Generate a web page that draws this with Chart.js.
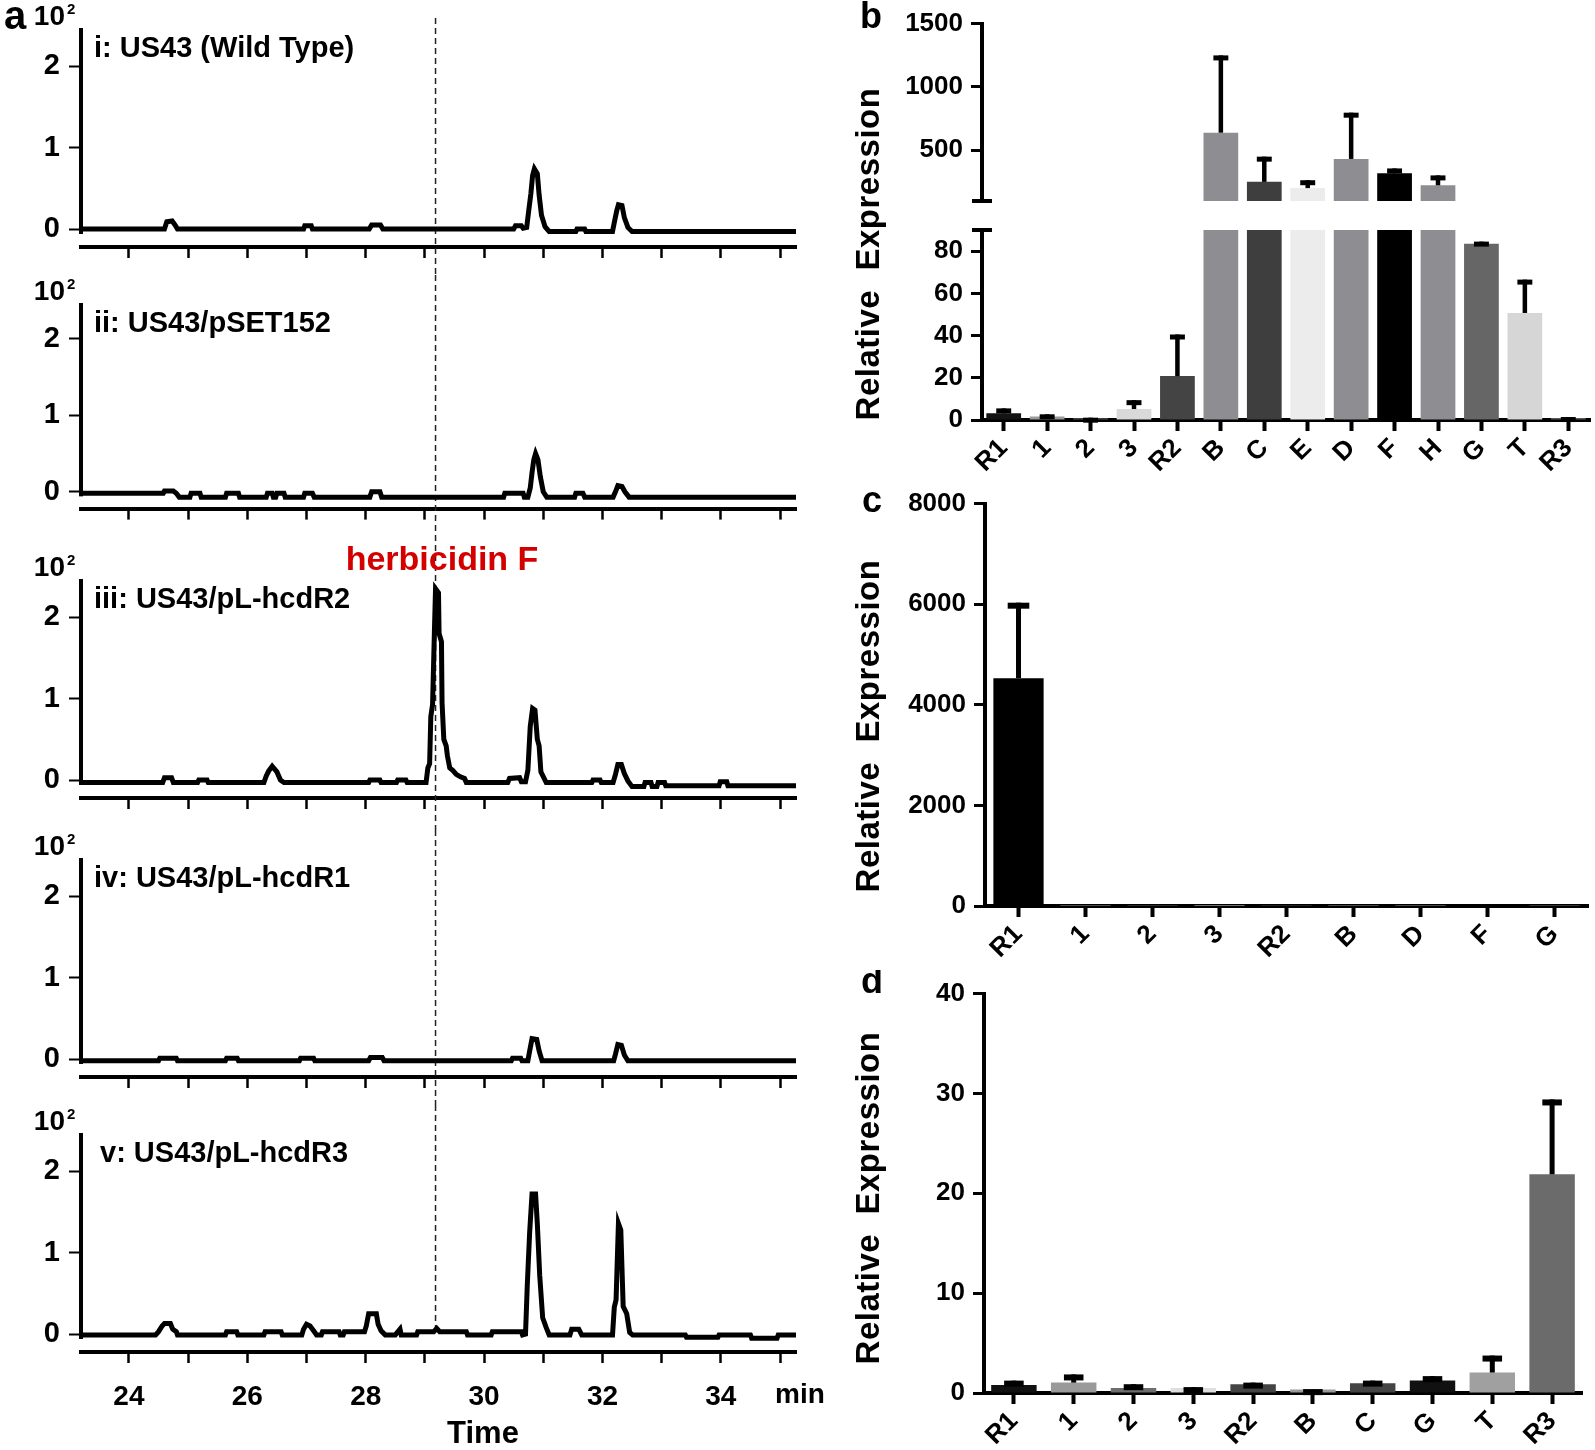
<!DOCTYPE html>
<html>
<head>
<meta charset="utf-8">
<script src="https://cdn.jsdelivr.net/npm/chart.js"></script>
<style>
  body { margin: 0; background: #fff; }
  #fig { position: relative; width: 1595px; height: 1450px; overflow: hidden; }
  #fig canvas { position: absolute; }
</style>
</head>
<body>
<div id="fig"></div>
<script>
// chromatograms: [time (min), intensity (x10^2)]
const traceI = [[23.19,0],[24.6,0],[24.64,0.09],[24.73,0.1],[24.78,0.05],[24.82,0],[26.95,0],[26.97,0.04],[27.08,0.04],[27.1,0],
  [28.06,0],[28.1,0.05],[28.25,0.05],[28.29,0],[30.5,0],[30.53,0.04],[30.63,0.04],[30.66,0.01],[30.72,0.02],[30.75,0.2],
  [30.79,0.43],[30.82,0.66],[30.85,0.74],[30.9,0.68],[30.93,0.42],[30.97,0.17],[31.03,0.03],[31.1,-0.03],[31.55,-0.03],
  [31.57,0],[31.7,0],[31.72,-0.03],[32.17,-0.03],[32.2,0.08],[32.24,0.22],[32.27,0.3],[32.33,0.29],[32.37,0.14],
  [32.43,0.02],[32.5,-0.03],[35.27,-0.03]]
const traceII = [[23.19,-0.02],[24.58,-0.02],[24.6,0.01],[24.75,0.01],[24.8,-0.02],[24.85,-0.07],[25.03,-0.07],[25.05,-0.02],
  [25.2,-0.02],[25.22,-0.07],[25.63,-0.07],[25.65,-0.02],[25.85,-0.02],[25.87,-0.07],[26.32,-0.07],[26.34,-0.02],[26.42,-0.02],
  [26.44,-0.07],[26.48,-0.07],[26.5,-0.02],[26.62,-0.02],[26.64,-0.07],[26.95,-0.07],[26.97,-0.02],[27.1,-0.02],[27.13,-0.07],
  [28.07,-0.07],[28.1,0],[28.24,0],[28.27,-0.07],[30.33,-0.07],[30.35,-0.02],[30.66,-0.02],[30.68,-0.07],[30.74,-0.07],
  [30.78,0.05],[30.81,0.25],[30.84,0.42],[30.87,0.5],[30.91,0.42],[30.95,0.2],[31,0],[31.06,-0.07],[31.53,-0.07],
  [31.55,-0.02],[31.67,-0.02],[31.7,-0.07],[32.18,-0.07],[32.22,0],[32.26,0.08],[32.33,0.07],[32.38,0],[32.45,-0.07],[35.27,-0.07]]
const traceIII = [[23.19,-0.03],[24.57,-0.03],[24.6,0.03],[24.72,0.03],[24.75,-0.03],[25.16,-0.03],[25.18,0],[25.32,0],
  [25.34,-0.03],[26.28,-0.03],[26.32,0.05],[26.36,0.11],[26.42,0.17],[26.5,0.1],[26.56,0],[26.62,-0.03],[28.05,-0.03],
  [28.07,0],[28.24,0],[28.26,-0.03],[28.52,-0.03],[28.54,0],[28.68,0],[28.7,-0.03],[29.02,-0.03],[29.05,0.15],[29.08,0.2],
  [29.1,0.78],[29.13,0.93],[29.16,1.8],[29.18,2.35],[29.23,2.3],[29.24,1.8],[29.28,1.7],[29.29,0.95],[29.32,0.5],
  [29.36,0.42],[29.38,0.3],[29.42,0.15],[29.47,0.12],[29.53,0.07],[29.6,0.04],[29.67,0.02],[29.7,-0.03],[30.4,-0.03],
  [30.43,0.02],[30.6,0.03],[30.63,-0.02],[30.7,-0.02],[30.74,0.12],[30.78,0.66],[30.82,0.88],[30.86,0.86],[30.9,0.5],
  [30.93,0.42],[30.96,0.1],[31.05,-0.03],[31.82,-0.03],[31.84,0],[31.96,0],[31.98,-0.03],[32.18,-0.03],[32.22,0.07],
  [32.26,0.19],[32.32,0.19],[32.37,0.08],[32.43,-0.01],[32.5,-0.08],[32.7,-0.08],[32.72,-0.03],[32.82,-0.03],[32.84,-0.08],
  [32.92,-0.08],[32.94,-0.03],[33.05,-0.03],[33.07,-0.07],[33.97,-0.07],[33.99,-0.02],[34.1,-0.02],[34.12,-0.07],[35.27,-0.07]]
const traceIV = [[23.19,-0.02],[24.5,-0.02],[24.52,0.01],[24.8,0.01],[24.82,-0.02],[25.63,-0.02],[25.65,0.01],[25.83,0.01],
  [25.85,-0.02],[26.88,-0.02],[26.9,0.01],[27.12,0.01],[27.14,-0.02],[28.05,-0.02],[28.08,0.02],[28.28,0.02],[28.31,-0.02],
  [30.46,-0.02],[30.48,0.01],[30.62,0.01],[30.64,-0.02],[30.74,-0.02],[30.77,0.1],[30.81,0.25],[30.89,0.24],[30.93,0.1],
  [30.98,-0.02],[32.19,-0.02],[32.22,0.06],[32.26,0.18],[32.32,0.17],[32.37,0.05],[32.43,-0.02],[35.27,-0.02]]
const traceV = [[23.19,-0.01],[24.45,-0.01],[24.5,0.03],[24.56,0.1],[24.6,0.13],[24.7,0.13],[24.74,0.06],[24.8,0.03],
  [24.82,-0.01],[25.63,-0.01],[25.65,0.03],[25.82,0.03],[25.84,-0.01],[26.28,-0.01],[26.3,0.03],[26.57,0.03],[26.59,-0.01],
  [26.92,-0.01],[26.95,0.06],[27,0.12],[27.06,0.1],[27.12,0.04],[27.17,-0.01],[27.25,-0.01],[27.27,0.03],[27.55,0.03],
  [27.57,-0.01],[27.62,-0.01],[27.64,0.03],[27.98,0.03],[28.01,0.1],[28.05,0.25],[28.18,0.25],[28.21,0.12],[28.26,0.04],
  [28.33,-0.01],[28.5,-0.01],[28.58,0.06],[28.6,-0.01],[28.86,-0.01],[28.88,0.03],[29.15,0.03],[29.2,0.07],[29.25,0.03],
  [29.7,0.03],[29.72,-0.01],[30.12,-0.01],[30.14,0.03],[30.63,0.03],[30.65,-0.01],[30.7,0],[30.73,0.6],[30.77,1.25],
  [30.81,1.72],[30.87,1.72],[30.9,1.35],[30.94,0.72],[30.99,0.2],[31.05,0.08],[31.1,-0.01],[31.45,-0.01],[31.48,0.06],
  [31.6,0.06],[31.65,-0.01],[32.17,-0.01],[32.2,0.33],[32.23,0.42],[32.27,1.36],[32.31,1.28],[32.35,0.34],[32.41,0.25],
  [32.46,0.02],[32.51,-0.01],[33.4,-0.01],[33.42,-0.04],[33.95,-0.04],[33.97,-0.01],[34.5,-0.01],[34.52,-0.05],
  [34.95,-0.05],[34.97,-0.01],[35.27,-0.01]]
const traceTitles = ['i: US43 (Wild Type)', 'ii: US43/pSET152', 'iii: US43/pL-hcdR2', 'iv: US43/pL-hcdR1', 'v: US43/pL-hcdR3']
const markerTime = 29.18
const markerLabel = 'herbicidin F'

// relative expression (mean and SD)
const bLabels = ['R1', '1', '2', '3', 'R2', 'B', 'C', 'E', 'D', 'F', 'H', 'G', 'T', 'R3']
const bMean = [3.2, 1.6, 0.8, 5.2, 20.8, 639, 251, 202, 432, 319, 224, 83.5, 50.7, 1.0]
const bSd = [2.3, 1.1, 0.3, 4.2, 19.7, 610, 199, 62, 365, 38, 78, 1.0, 15.8, 0.4]
const bTopTicks = [500, 1000, 1500]
const cLabels = ['R1', '1', '2', '3', 'R2', 'B', 'D', 'F', 'G']
const cMean = [4530, 1.2, 0.9, 1.1, 0.8, 1.3, 0.7, 1.0, 0.9]
const cSd = [1500, 0, 0, 0, 0, 0, 0, 0, 0]
const dLabels = ['R1', '1', '2', '3', 'R2', 'B', 'C', 'G', 'T', 'R3']
const dMean = [0.81, 1.04, 0.49, 0.49, 0.88, 0.36, 0.98, 1.24, 2.05, 21.9]
const dSd = [0.43, 0.82, 0.39, 0.1, 0.16, 0.03, 0.26, 0.45, 1.7, 7.5]

const bColors = ['#141414', '#9a9a9a', '#555555', '#d9d9d9', '#444444', '#8e8e92', '#3e3e3e', '#ececec', '#8e8e92', '#000000', '#8e8e92', '#666666', '#d6d6d6', '#5a5a5a']
const cColors = ['#000000', '#9a9a9a', '#555555', '#d9d9d9', '#444444', '#8e8e92', '#8e8e92', '#000000', '#666666']
const dColors = ['#111111', '#9a9a9a', '#6e6e6e', '#dedede', '#444444', '#9a9a9a', '#444444', '#111111', '#a0a0a0', '#6b6b6b']

Chart.defaults.font.family = "'Liberation Sans', Arial, Helvetica, sans-serif"
Chart.defaults.font.weight = 'bold'
Chart.defaults.color = '#000'
Chart.defaults.animation = false
Chart.defaults.events = []
Chart.defaults.plugins.legend.display = false
Chart.defaults.plugins.tooltip.enabled = false

const fig = document.getElementById('fig')
const BOLD = "'Liberation Sans', Arial, sans-serif"

function makeCanvas (left, top, w, h) {
  const c = document.createElement('canvas')
  c.width = w
  c.height = h
  c.style.left = left + 'px'
  c.style.top = top + 'px'
  c.style.width = w + 'px'
  c.style.height = h + 'px'
  fig.appendChild(c)
  return c
}

// plain text labels (titles, panel letters, axis names)
function textPlugin (items) {
  return {
    id: 'txt',
    afterDraw (chart) {
      const ctx = chart.ctx
      items.forEach(it => {
        ctx.save()
        ctx.font = 'bold ' + it.size + 'px ' + BOLD
        if (it.spacing) ctx.letterSpacing = it.spacing
        ctx.fillStyle = it.color || '#000'
        ctx.textAlign = it.align || 'left'
        ctx.textBaseline = it.base || 'alphabetic'
        ctx.translate(it.x, it.y)
        if (it.rot) ctx.rotate(it.rot)
        ctx.fillText(it.t, 0, 0)
        ctx.restore()
      })
    }
  }
}

// dashed retention-time marker + y axis line that stops at the baseline
function chromPlugin (yStart, stopAtZero) {
  return {
    id: 'chrom',
    beforeDatasetsDraw (chart) {
      const ctx = chart.ctx
      const x = chart.scales.x.getPixelForValue(markerTime)
      const y = chart.scales.y
      const a = chart.chartArea
      ctx.save()
      ctx.setLineDash([6, 4])
      ctx.lineWidth = 1.5
      ctx.strokeStyle = '#222'
      ctx.beginPath()
      ctx.moveTo(x, yStart)
      ctx.lineTo(x, stopAtZero ? y.getPixelForValue(0) : chart.height)
      ctx.stroke()
      ctx.setLineDash([])
      ctx.fillStyle = '#000'
      ctx.fillRect(a.left - 2, a.top, 4, y.getPixelForValue(-0.06) - a.top)
      ctx.restore()
    }
  }
}

// error bars: line from bar top to mean+SD with a cap
function errPlugin (sd, lw, capH) {
  return {
    id: 'err',
    afterDatasetsDraw (chart) {
      const ctx = chart.ctx
      const y = chart.scales.y
      const vals = chart.data.datasets[0].data
      ctx.save()
      ctx.fillStyle = '#000'
      chart.getDatasetMeta(0).data.forEach((bar, i) => {
        const v = vals[i]
        if (v == null || v > y.max || !sd[i]) return
        const yTop = y.getPixelForValue(v + sd[i])
        const yBar = y.getPixelForValue(v)
        const capW = bar.width * 0.43
        ctx.fillRect(bar.x - lw / 2, yTop, lw, yBar - yTop)
        ctx.fillRect(bar.x - capW / 2, yTop, capW, capH)
      })
      ctx.restore()
    }
  }
}

// little horizontal caps at the axis break
function breakPlugin (atBottom) {
  return {
    id: 'brk',
    afterDraw (chart) {
      const a = chart.chartArea
      const y = atBottom ? a.bottom : a.top
      chart.ctx.save()
      chart.ctx.fillStyle = '#000'
      chart.ctx.fillRect(a.left - 10, y - 2, 20, 4)
      chart.ctx.restore()
    }
  }
}

// ---- panel a: five chromatograms ----
const traces = [traceI, traceII, traceIII, traceIV, traceV]
const canvasTops = [0, 275, 535, 830, 1105, 1450]
const areaTops = [28, 303, 579, 858, 1133]
const AREA_H = 219

traces.forEach((tr, k) => {
  const top = canvasTops[k]
  const h = canvasTops[k + 1] - top
  const padTop = areaTops[k] - top
  const xH = h - padTop - AREA_H
  const last = k === traces.length - 1
  const texts = [
    { t: '10', x: 65, y: padTop - 3, size: 28, align: 'right' },
    { t: '2', x: 67, y: padTop - 14, size: 15 },
    { t: traceTitles[k], x: last ? 100 : 94, y: padTop + 29, size: 29 }
  ]
  if (k === 0) texts.push({ t: 'a', x: 15, y: 18, size: 40, align: 'center', base: 'middle' })
  if (k === 2) texts.push({ t: markerLabel, x: 442, y: 26, size: 34, align: 'center', base: 'middle', color: '#d40000' })
  if (last) {
    texts.push({ t: 'min', x: 800, y: 290, size: 28, align: 'center', base: 'middle' })
    texts.push({ t: 'Time', x: 483, y: 329, size: 31, align: 'center', base: 'middle' })
  }
  new Chart(makeCanvas(0, top, 830, h), {
    type: 'line',
    data: {
      datasets: [{
        data: tr.map(p => ({ x: p[0], y: p[1] })),
        borderColor: '#000',
        borderWidth: 5,
        pointRadius: 0,
        tension: 0,
        fill: false
      }]
    },
    options: {
      responsive: false,
      layout: { padding: { top: padTop, right: 34, bottom: 0, left: 0 } },
      scales: {
        x: {
          type: 'linear', min: 23.19, max: 35.27,
          afterFit: s => { s.height = xH },
          border: { display: true, width: 4, color: '#000' },
          grid: { drawOnChartArea: false, tickLength: 11, tickWidth: 2.5, tickColor: '#000' },
          ticks: {
            display: last, stepSize: 1, includeBounds: false, autoSkip: false,
            maxRotation: 0, minRotation: 0, padding: 17, font: { size: 28 },
            callback: v => v % 2 === 0 ? String(v) : ''
          }
        },
        y: {
          min: -0.22, max: 2.47,
          afterFit: s => { s.width = 81 },
          border: { display: false },
          grid: { drawOnChartArea: false, tickLength: 12, tickWidth: 2, tickColor: '#000' },
          ticks: { stepSize: 1, includeBounds: false, padding: 9, font: { size: 29 }, callback: v => String(v) }
        }
      }
    },
    plugins: [chromPlugin(k === 0 ? 18 : 0, last), textPlugin(texts)]
  })
})

// ---- panels b, c, d: bar charts ----
function barChart (cv, labels, data, colors, o) {
  return new Chart(cv, {
    type: 'bar',
    data: {
      labels: labels,
      datasets: [{ data: data, backgroundColor: colors, borderWidth: 0, barPercentage: o.barPct, categoryPercentage: 1, clip: 0 }]
    },
    options: {
      responsive: false,
      layout: { padding: { top: o.top, right: o.right, bottom: o.bottom || 0, left: 0 } },
      scales: {
        x: {
          display: o.showX, offset: true,
          afterFit: s => { if (o.showX) s.height = o.xH },
          border: { width: 4, color: '#000' },
          grid: { offset: false, drawOnChartArea: false, tickLength: 11, tickWidth: 4, tickColor: '#000' },
          ticks: { autoSkip: false, minRotation: 45, maxRotation: 45, padding: 2, font: { size: 26 } }
        },
        y: {
          min: o.min, max: o.max,
          afterFit: s => { s.width = o.yW },
          afterBuildTicks: s => { if (o.tickVals) s.ticks = o.tickVals.map(v => ({ value: v })) },
          border: { width: 4, color: '#000' },
          grid: { drawOnChartArea: false, tickLength: 11, tickWidth: 3, tickColor: '#000' },
          ticks: { stepSize: o.step, includeBounds: false, padding: 8, font: { size: 26 }, callback: v => String(v) }
        }
      }
    },
    plugins: [errPlugin(o.sd, o.lw, o.capH), textPlugin(o.texts || [])].concat(o.extra || [])
  })
}

const yTitle = 'Relative  Expression'

// b: broken axis, upper part 100-1500 and lower part 0-90
barChart(makeCanvas(830, 0, 765, 480), bLabels, bMean.map(v => v > 100 ? v : null), bColors, {
  showX: false, top: 15, right: 5, bottom: 279, yW: 152, min: 100, max: 1500, step: 500, tickVals: bTopTicks,
  barPct: 0.8, sd: bSd, lw: 4.5, capH: 5,
  texts: [
    { t: 'b', x: 41, y: 18, size: 36, align: 'center', base: 'middle' },
    { t: yTitle, x: 40, y: 254, size: 33, align: 'center', base: 'middle', rot: -Math.PI / 2, spacing: '0.5px' }
  ],
  extra: [breakPlugin(true)]
})
barChart(makeCanvas(830, 0, 765, 480), bLabels, bMean, bColors, {
  showX: true, top: 230, right: 5, xH: 60, yW: 152, min: 0, max: 90, step: 20,
  barPct: 0.8, sd: bSd, lw: 4.5, capH: 5,
  extra: [breakPlugin(false)]
})

// c
barChart(makeCanvas(830, 480, 765, 490), cLabels, cMean, cColors, {
  showX: true, top: 22, right: 7, xH: 64, yW: 155, min: 0, max: 8000, step: 2000,
  barPct: 0.75, sd: cSd, lw: 5, capH: 6,
  texts: [
    { t: 'c', x: 42, y: 22, size: 36, align: 'center', base: 'middle' },
    { t: yTitle, x: 40, y: 246, size: 33, align: 'center', base: 'middle', rot: -Math.PI / 2, spacing: '0.5px' }
  ]
})

// d
barChart(makeCanvas(830, 970, 765, 480), dLabels, dMean, dColors, {
  showX: true, top: 18, right: 13, xH: 57, yW: 154, min: 0, max: 40, step: 10,
  barPct: 0.76, sd: dSd, lw: 5, capH: 6,
  texts: [
    { t: 'd', x: 42, y: 13, size: 36, align: 'center', base: 'middle' },
    { t: yTitle, x: 40, y: 228, size: 33, align: 'center', base: 'middle', rot: -Math.PI / 2, spacing: '0.5px' }
  ]
})
</script>
</body>
</html>
